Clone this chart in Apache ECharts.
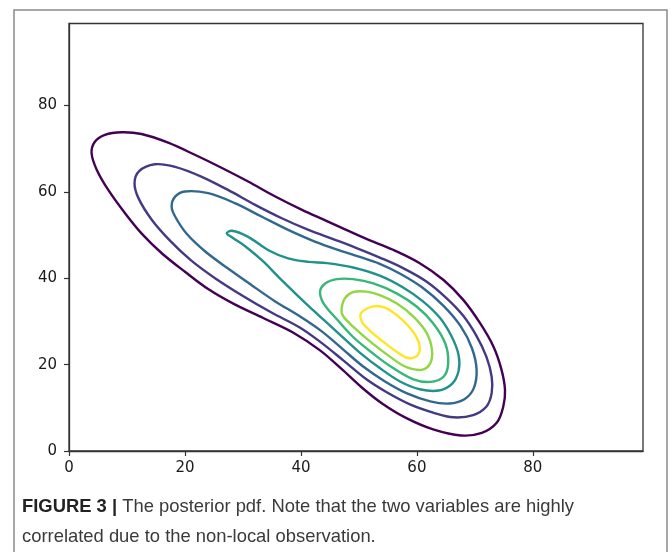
<!DOCTYPE html>
<html>
<head>
<meta charset="utf-8">
<script src="https://cdn.jsdelivr.net/npm/echarts@6/dist/echarts.min.js"></script>
<style>
  html, body { margin: 0; padding: 0; background: #fff; }
  #chart { width: 672px; height: 552px; }
</style>
</head>
<body>
<div id="chart"></div>
<script>
// contour levels, outermost first, traced as [x, y] in data units (closed loops, last point = first point)
const level1 = [[3.9,68.9],[4.4,71.5],[6.2,73.2],[9.1,73.8],[12.5,73.4],[17.1,71.4],[21.7,68.6],[26.3,65.6],[30.9,62.4],[35.5,59.0],[40.1,55.9],[44.2,53.4],[47.8,51.2],[51.3,49.1],[55.9,46.6],[60.5,43.5],[64.6,39.6],[68.0,35.0],[70.9,29.6],[73.2,24.2],[74.6,18.8],[75.2,14.1],[74.9,10.3],[73.8,6.6],[71.2,4.2],[67.6,3.6],[62.8,5.0],[58.2,7.6],[54.0,11.0],[50.5,14.7],[47.0,19.0],[43.3,23.3],[38.7,27.4],[33.5,30.8],[28.5,34.0],[24.0,37.5],[20.0,41.5],[16.0,45.8],[12.5,50.4],[9.7,55.0],[6.8,60.4],[4.8,65.1],[3.9,68.9]];
const level2 = [[11.3,62.0],[12.1,64.8],[14.8,66.4],[18.3,65.8],[22.9,63.5],[27.5,60.4],[32.1,57.0],[36.7,53.9],[41.3,51.2],[45.9,48.9],[49.6,47.0],[53.6,44.8],[57.7,42.3],[61.7,39.2],[65.1,35.4],[68.0,31.3],[70.3,26.6],[72.0,21.8],[72.9,17.2],[72.9,13.4],[72.0,10.3],[69.7,8.3],[66.3,7.8],[62.8,8.9],[58.8,10.8],[54.8,13.6],[51.3,16.6],[47.3,21.0],[43.5,25.1],[39.8,28.6],[35.0,32.0],[30.0,35.9],[25.0,40.2],[21.0,44.2],[17.5,48.6],[14.3,53.5],[12.0,58.5],[11.3,62.0]];
const level3 = [[17.7,56.6],[18.3,58.9],[20.0,60.1],[24.0,59.7],[28.6,57.4],[33.2,54.3],[37.8,51.2],[42.4,48.5],[47.0,46.3],[50.0,45.0],[53.5,43.4],[57.2,41.0],[61.0,37.8],[64.6,33.6],[67.6,28.8],[69.5,23.8],[70.3,18.8],[69.8,14.5],[68.2,12.0],[65.6,11.0],[62.3,11.5],[58.2,13.4],[54.5,16.1],[50.8,19.5],[47.2,23.6],[43.6,27.7],[39.8,31.2],[35.5,34.7],[31.5,38.4],[27.5,42.2],[23.5,46.2],[20.3,50.3],[18.3,54.3],[17.7,56.6]];
const level4 = [[27.2,50.4],[28.1,51.0],[30.9,49.6],[34.4,46.5],[37.8,44.6],[41.3,43.8],[44.5,43.5],[49.0,42.5],[53.6,40.6],[57.7,37.8],[61.1,34.6],[64.0,30.8],[66.0,26.5],[67.2,22.2],[67.2,18.6],[66.1,15.6],[63.8,14.0],[60.5,14.3],[57.1,16.1],[53.6,19.2],[50.3,22.6],[47.0,26.6],[43.9,30.4],[41.3,33.6],[38.8,36.8],[36.2,40.2],[33.5,43.9],[30.6,47.2],[28.1,49.5],[27.2,50.4]];
const level5 = [[43.3,36.9],[44.2,38.8],[46.2,39.8],[49.0,39.8],[52.5,38.8],[56.5,36.5],[60.0,33.4],[62.8,29.6],[64.9,24.9],[65.4,20.3],[64.6,17.2],[62.3,16.0],[59.4,16.6],[55.9,19.2],[52.5,22.5],[49.0,26.4],[46.2,30.5],[43.9,34.2],[43.3,36.9]];
const level6 = [[47.0,32.7],[47.6,35.4],[49.0,36.8],[51.3,36.9],[53.6,36.1],[56.5,34.2],[59.4,31.1],[61.7,27.3],[62.6,23.4],[62.3,20.3],[60.8,18.8],[58.2,19.4],[55.4,21.8],[51.9,25.4],[49.0,28.8],[47.3,31.2],[47.0,32.7]];
const level7 = [[50.4,32.0],[52.5,33.5],[54.5,33.2],[56.5,31.5],[58.5,29.0],[60.0,26.2],[60.5,23.5],[59.8,21.8],[58.3,21.6],[56.5,23.0],[54.0,25.5],[51.8,28.0],[50.5,30.0],[50.4,32.0]];

const levels = [level1, level2, level3, level4, level5, level6, level7];
const levelColors = ['#440154', '#443983', '#31688e', '#21918c', '#35b779', '#90d743', '#fde725'];
const xTicks = [0, 20, 40, 60, 80];
const yTicks = [0, 20, 40, 60, 80];
const captionHead = 'FIGURE 3 |';
const caption = ['The posterior pdf. Note that the two variables are highly',
                 'correlated due to the non-local observation.'];

const chart = echarts.init(document.getElementById('chart'));

const axisBase = {
    type: 'value',
    min: 0,
    max: 99,
    interval: 20,
    splitLine: {show: false},
    axisLine: {show: true, onZero: false, lineStyle: {color: '#333', width: 1.3}}
};

function contourSeries(pts, i) {
    const ring = pts.slice(0, pts.length - 1);
    return {
        type: 'custom',
        coordinateSystem: 'cartesian2d',
        encode: {x: 0, y: 1},
        data: ring,
        silent: true,
        z: 2 + i,
        renderItem: function (params, api) {
            if (params.dataIndex !== 0) {
                return null;
            }
            return {
                type: 'polygon',
                shape: {points: ring.map(p => api.coord(p)), smooth: 0.35},
                style: {fill: 'none', stroke: levelColors[i], lineWidth: 2.4}
            };
        }
    };
}

chart.setOption({
    animation: false,
    backgroundColor: '#fff',
    grid: {
        left: 69, top: 23.5, right: 29, bottom: 101,
        show: true, borderColor: '#333', borderWidth: 1.3,
        backgroundColor: 'transparent'
    },
    xAxis: Object.assign({}, axisBase, {
        axisTick: {show: true, length: 5, customValues: xTicks, lineStyle: {color: '#333', width: 1.2}},
        axisLabel: {
            color: '#1a1a1a', fontFamily: 'DejaVu Sans', fontSize: 15, margin: 10,
            customValues: xTicks
        }
    }),
    yAxis: Object.assign({}, axisBase, {
        axisTick: {show: true, length: 5, customValues: yTicks, lineStyle: {color: '#333', width: 1.2}},
        axisLabel: {
            color: '#1a1a1a', fontFamily: 'DejaVu Sans', fontSize: 15, margin: 12,
            customValues: yTicks
        }
    }),
    graphic: [
        {
            type: 'rect',
            shape: {x: 14, y: 10, width: 653, height: 560},
            style: {fill: 'none', stroke: '#8a8a8a', lineWidth: 1.5},
            silent: true
        },
        {
            type: 'text',
            left: 22,
            top: 492,
            style: {
                text: '{b|' + captionHead + '} ' + caption[0] + '\n' + caption[1],
                font: '18.4px "Liberation Sans"',
                fill: '#3a3a3a',
                lineHeight: 30,
                rich: {
                    b: {fontWeight: 'bold', fontSize: 18.4, fontFamily: 'Liberation Sans', fill: '#222', lineHeight: 30}
                }
            }
        }
    ],
    series: levels.map(contourSeries)
});
</script>
</body>
</html>
